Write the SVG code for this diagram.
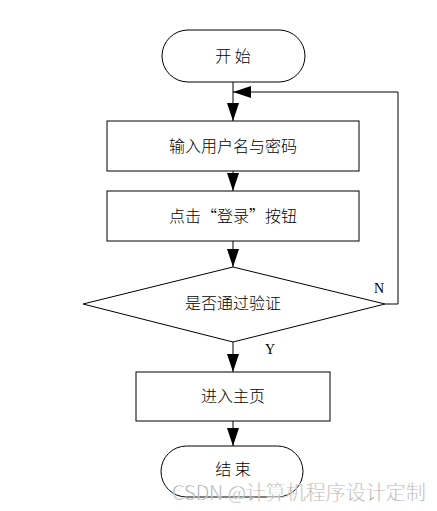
<svg xmlns="http://www.w3.org/2000/svg" width="437" height="511" viewBox="0 0 437 511">
<style>
.s{fill:#fff;stroke:#000;stroke-width:1}
.t{font-family:"Noto Sans CJK SC","Noto Sans",sans-serif;font-size:16px;font-weight:300;fill:#000;text-anchor:middle}
.l{font-family:"Liberation Serif",serif;font-size:14px;fill:#000}
.c{fill:none;stroke:#000;stroke-width:1}
</style>
<defs>
<marker id="a" markerUnits="userSpaceOnUse" markerWidth="18" markerHeight="12" refX="18" refY="6" orient="auto" viewBox="0 0 18 12">
<path d="M0,0 L18,6 L0,12 Z" fill="#000"/>
</marker>
</defs>
<rect width="437" height="511" fill="#fff"/>
<g id="connectors">
<line class="c" x1="233" y1="82" x2="233" y2="121" marker-end="url(#a)"/>
<line class="c" x1="233" y1="171" x2="233" y2="191" marker-end="url(#a)"/>
<line class="c" x1="233" y1="241" x2="233" y2="267" marker-end="url(#a)"/>
<line class="c" x1="233" y1="342" x2="233" y2="372" marker-end="url(#a)"/>
<line class="c" x1="233" y1="421" x2="233" y2="446" marker-end="url(#a)"/>
<polyline class="c" points="385,304 398,304 398,92 233,92" marker-end="url(#a)"/>
<text class="l" x="374" y="293">N</text>
<text class="l" x="265" y="354">Y</text>
</g>
<g id="start">
<rect class="s" x="162" y="30" width="143" height="52" rx="26"/>
<text class="t" x="233" y="62">开 始</text>
</g>
<g id="input">
<rect class="s" x="107" y="121" width="252" height="50"/>
<text class="t" x="233" y="152">输入用户名与密码</text>
</g>
<g id="click">
<rect class="s" x="107" y="191" width="252" height="50"/>
<text class="t" x="233" y="222">点击“登录”按钮</text>
</g>
<g id="check">
<polygon class="s" points="233,267 385,304 233,342 83,304"/>
<text class="t" x="233" y="309">是否通过验证</text>
</g>
<g id="home">
<rect class="s" x="136" y="372" width="194" height="49"/>
<text class="t" x="233" y="402">进入主页</text>
</g>
<g id="end">
<rect class="s" x="161" y="446" width="142" height="51" rx="25.5"/>
<text class="t" x="233" y="475">结 束</text>
</g>
<text x="172" y="500" font-family="'Noto Sans CJK SC','Noto Sans',sans-serif" font-size="20" font-weight="300" fill="#999" stroke="#fff" stroke-width="0.3">CSDN @计算机程序设计定制</text>
</svg>
